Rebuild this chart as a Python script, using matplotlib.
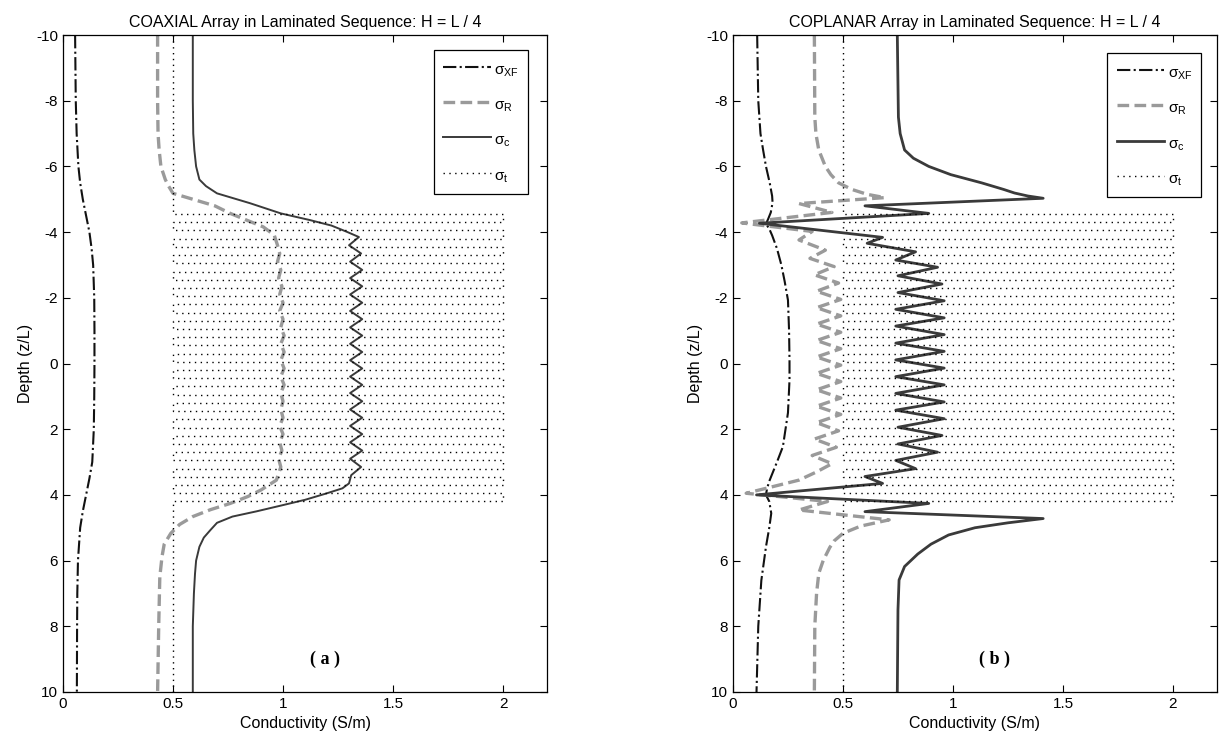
import matplotlib
matplotlib.use("Agg")
import matplotlib.pyplot as plt

plt.rcParams["font.family"] = ["Liberation Sans", "DejaVu Sans"]
plt.rcParams["mathtext.fontset"] = "custom"
plt.rcParams["mathtext.rm"] = "Liberation Sans"
plt.rcParams["mathtext.it"] = "Liberation Sans"
plt.rcParams["axes.unicode_minus"] = False

# ---------------------------------------------------------------------------
# Laminated model (true conductivity, sigma_t)
# ---------------------------------------------------------------------------
LAYER_Z = [-4.55, -4.30, -4.05, -3.80, -3.55, -3.30, -3.05, -2.80, -2.55,
           -2.30, -2.05, -1.80, -1.55, -1.30, -1.05, -0.80, -0.55, -0.30,
           -0.05, 0.20, 0.45, 0.70, 0.95, 1.20, 1.45, 1.70, 1.95, 2.20,
           2.45, 2.70, 2.95, 3.20, 3.45, 3.70, 3.95, 4.20]
SIGMA_BG = 0.5     # background / low-conductivity laminae
SIGMA_HI = 2.0     # conductive laminae

# ---------------------------------------------------------------------------
# (a) COAXIAL
# ---------------------------------------------------------------------------
A_XF_Z = [-10, -8, -7, -6, -5.5, -5, -4.5, -4, -3.5, -3, -2, -1, 0, 1, 2,
          3, 3.5, 4, 4.5, 5, 6, 7, 8, 10]
A_XF = [0.055, 0.058, 0.062, 0.070, 0.078, 0.090, 0.105, 0.120, 0.130,
        0.137, 0.142, 0.143, 0.143, 0.142, 0.140, 0.133, 0.120, 0.105,
        0.090, 0.078, 0.068, 0.065, 0.064, 0.063]

A_R_Z = [-10, -8, -7, -6.5, -6.0, -5.6, -5.4, -5.18, -4.98, -4.8, -4.57,
         -4.35, -4.16, -3.91,
         -3.60, -3.35, -3.10, -2.85, -2.60, -2.35, -2.10, -1.85, -1.60,
         -1.35, -1.10, -0.85, -0.60, -0.35, -0.10, 0.15, 0.40, 0.65, 0.90,
         1.15, 1.40, 1.65, 1.90, 2.15, 2.40, 2.65, 2.90, 3.15,
         3.35, 3.55, 3.85, 4.05, 4.26, 4.45, 4.66, 4.9, 5.17, 5.5, 5.88,
         6.5, 8, 10]
A_R = [0.43, 0.43, 0.432, 0.437, 0.445, 0.465, 0.48, 0.50, 0.60, 0.69, 0.76,
       0.84, 0.91, 0.96,
       0.975, 0.985, 0.975, 0.99, 0.98, 0.995, 0.985, 1.0, 0.985, 1.0,
       0.99, 1.005, 0.99, 1.005, 0.99, 1.005, 0.99, 1.005, 0.99, 1.0,
       0.99, 1.0, 0.985, 1.0, 0.985, 0.995, 0.98, 0.99,
       0.98, 0.97, 0.90, 0.84, 0.76, 0.67, 0.59, 0.53, 0.49, 0.46, 0.45,
       0.44, 0.435, 0.43]

A_C_Z = [-10, -8, -7, -6.5, -6.0, -5.6, -5.4, -5.18, -4.88, -4.57, -4.37,
         -4.2, -4.01,
         -3.85, -3.60, -3.35, -3.10, -2.85, -2.60, -2.35, -2.10, -1.85,
         -1.60, -1.35, -1.10, -0.85, -0.60, -0.35, -0.10, 0.15, 0.40, 0.65,
         0.90, 1.15, 1.40, 1.65, 1.90, 2.15, 2.40, 2.65, 2.90, 3.15, 3.40,
         3.65, 3.8, 3.95, 4.15, 4.31, 4.5, 4.66, 4.85, 5.07, 5.3, 5.58,
         6.0, 6.4, 7, 8, 10]
A_C = [0.59, 0.59, 0.592, 0.597, 0.605, 0.62, 0.65, 0.70, 0.85, 0.99, 1.12,
       1.22, 1.29,
       1.345, 1.30, 1.355, 1.305, 1.36, 1.305, 1.36, 1.305, 1.36, 1.305,
       1.36, 1.305, 1.36, 1.305, 1.36, 1.305, 1.36, 1.305, 1.36, 1.305,
       1.36, 1.305, 1.36, 1.305, 1.36, 1.305, 1.36, 1.305, 1.355, 1.31,
       1.30, 1.27, 1.20, 1.10, 1.00, 0.88, 0.77, 0.70, 0.67, 0.64, 0.62,
       0.605, 0.60, 0.595, 0.59, 0.59]

# ---------------------------------------------------------------------------
# (b) COPLANAR
# ---------------------------------------------------------------------------
B_XF_Z = [-10, -8, -7, -6.5, -6, -5.5, -5.1, -4.9, -4.6, -4.4, -4.25, -4.1,
          -3.9, -3.5, -3, -2.5, -1.93, -1, -0.1, 0.5, 1.5, 2.53, 3.0, 3.55,
          3.8, 4.0, 4.2, 4.56, 5.0, 5.58, 6.6, 8, 10]
B_XF = [0.11, 0.115, 0.125, 0.137, 0.15, 0.167, 0.178, 0.18, 0.172, 0.16,
        0.15, 0.165, 0.178, 0.2, 0.22, 0.235, 0.25, 0.255, 0.257, 0.257,
        0.25, 0.227, 0.2, 0.167, 0.155, 0.15, 0.165, 0.174, 0.165, 0.15,
        0.129, 0.115, 0.107]

B_R_Z = [-10, -7.5, -7, -6.5, -6, -5.75, -5.5, -5.3, -5.15, -5.05, -4.87,
         -4.6, -4.28,
         -4.02, -3.76, -3.45, -3.2, -2.95, -2.7, -2.45, -2.2, -1.95, -1.7,
         -1.45, -1.2, -0.95, -0.7, -0.45, -0.2, 0.05, 0.3, 0.55, 0.8, 1.05,
         1.3, 1.55, 1.8, 2.05, 2.3, 2.55, 2.8, 3.05, 3.3, 3.55,
         3.95, 4.2, 4.46, 4.76, 4.95, 5.17, 5.4, 5.6, 6.0, 6.39, 7, 8, 10]
B_R = [0.37, 0.372, 0.377, 0.39, 0.42, 0.445, 0.48, 0.54, 0.61, 0.69, 0.30,
       0.45, 0.04,
       0.36, 0.30, 0.42, 0.35, 0.46, 0.37, 0.48, 0.38, 0.49, 0.38, 0.49,
       0.38, 0.49, 0.38, 0.49, 0.38, 0.49, 0.38, 0.49, 0.38, 0.49, 0.38,
       0.49, 0.38, 0.48, 0.37, 0.47, 0.36, 0.45, 0.38, 0.30,
       0.06, 0.43, 0.30, 0.71, 0.58, 0.50, 0.46, 0.44, 0.41, 0.39, 0.38,
       0.372, 0.37]

B_C_Z = [-10, -7.5, -7, -6.5, -6.25, -6, -5.75, -5.5, -5.3, -5.19, -5.1,
         -5.03, -4.8, -4.57, -4.27,
         -3.84, -3.66, -3.4, -3.15,
         -2.93, -2.67, -2.42, -2.16, -1.91, -1.65, -1.39, -1.14, -0.88,
         -0.62, -0.37, -0.11, 0.14, 0.40, 0.65, 0.91, 1.17, 1.42, 1.68,
         1.94, 2.19, 2.45, 2.70,
         2.95, 3.2, 3.44, 3.65, 4.0, 4.26, 4.51,
         4.72, 4.85, 5.0, 5.22, 5.5, 5.8, 6.18, 6.59, 7.5, 10]
B_C = [0.747, 0.752, 0.76, 0.78, 0.82, 0.89, 0.99, 1.13, 1.23, 1.28, 1.34,
       1.41, 0.60, 0.89, 0.12,
       0.68, 0.61, 0.83, 0.74,
       0.93, 0.75, 0.95, 0.75, 0.96, 0.74, 0.96, 0.74, 0.96, 0.74, 0.96,
       0.74, 0.96, 0.74, 0.96, 0.74, 0.96, 0.74, 0.96, 0.75, 0.95, 0.75,
       0.93,
       0.74, 0.83, 0.60, 0.68, 0.107, 0.89, 0.60,
       1.41, 1.25, 1.10, 0.98, 0.90, 0.84, 0.78, 0.755, 0.75, 0.747]

TITLES = ["COAXIAL Array in Laminated Sequence: H = L / 4",
          "COPLANAR Array in Laminated Sequence: H = L / 4"]
PANEL_TAGS = ["( a )", "( b )"]
LABELS = [r"$\sigma_{XF}$", r"$\sigma_R$", r"$\sigma_c$", r"$\sigma_t$"]

XF_COLOR = "#111111"
R_COLOR = "#9a9a9a"
C_COLOR = "#3a3a3a"


def sigma_t_profile():
    xs, zs = [SIGMA_BG], [-10]
    cur = SIGMA_BG
    for i, z in enumerate(LAYER_Z):
        nxt = SIGMA_HI if (i % 2 == 0 and i < len(LAYER_Z) - 1) else SIGMA_BG
        xs += [cur, nxt]
        zs += [z, z]
        cur = nxt
    xs.append(cur)
    zs.append(10)
    return xs, zs


def draw_panel(ax, xf, r, c, title, tag, c_lw, legend_anchor):
    ax.plot(xf[1], xf[0], color=XF_COLOR, lw=1.5, ls="-.", label=LABELS[0])
    ax.plot(r[1], r[0], color=R_COLOR, lw=2.4, dashes=(3.5, 1.6),
            label=LABELS[1])
    ax.plot(c[1], c[0], color=C_COLOR, lw=c_lw, label=LABELS[2])
    tx, tz = sigma_t_profile()
    ax.plot(tx, tz, color="black", lw=1.0, dashes=(1, 3.2), label=LABELS[3])

    ax.set_xlim(0, 2.2)
    ax.set_ylim(10, -10)
    ax.set_xticks([0, 0.5, 1, 1.5, 2])
    ax.set_xticklabels(["0", "0.5", "1", "1.5", "2"])
    ax.set_yticks(range(-10, 11, 2))
    ax.tick_params(direction="in", top=True, right=True, length=5,
                   labelsize=11, width=0.8)
    for sp in ax.spines.values():
        sp.set_linewidth(0.9)
    ax.set_title(title, fontsize=11.5, pad=6)
    ax.set_xlabel("Conductivity (S/m)", fontsize=11.5, labelpad=4)
    ax.set_ylabel("Depth (z/L)", fontsize=11.5, labelpad=2)
    ax.text(1.19, 9.0, tag, ha="center", va="center", fontsize=13,
            fontweight="bold", family="Liberation Serif")
    leg = ax.legend(loc="upper right", bbox_to_anchor=legend_anchor,
                    borderaxespad=0, fontsize=11, handlelength=3.1,
                    handleheight=1.6, labelspacing=1.03, fancybox=False,
                    framealpha=1, edgecolor="black", handletextpad=0.25,
                    borderpad=0.6)
    leg.get_frame().set_linewidth(0.9)


fig = plt.figure(figsize=(12.21, 7.42), dpi=100)
ax_a = fig.add_axes([0.0516, 0.0674, 0.3964, 0.8854])
ax_b = fig.add_axes([0.6003, 0.0674, 0.3964, 0.8854])

draw_panel(ax_a, (A_XF_Z, A_XF), (A_R_Z, A_R), (A_C_Z, A_C),
           TITLES[0], PANEL_TAGS[0], 1.4, (0.961, 0.977))
draw_panel(ax_b, (B_XF_Z, B_XF), (B_R_Z, B_R), (B_C_Z, B_C),
           TITLES[1], PANEL_TAGS[1], 2.0, (0.968, 0.972))

fig.savefig("out.png", dpi=100)
